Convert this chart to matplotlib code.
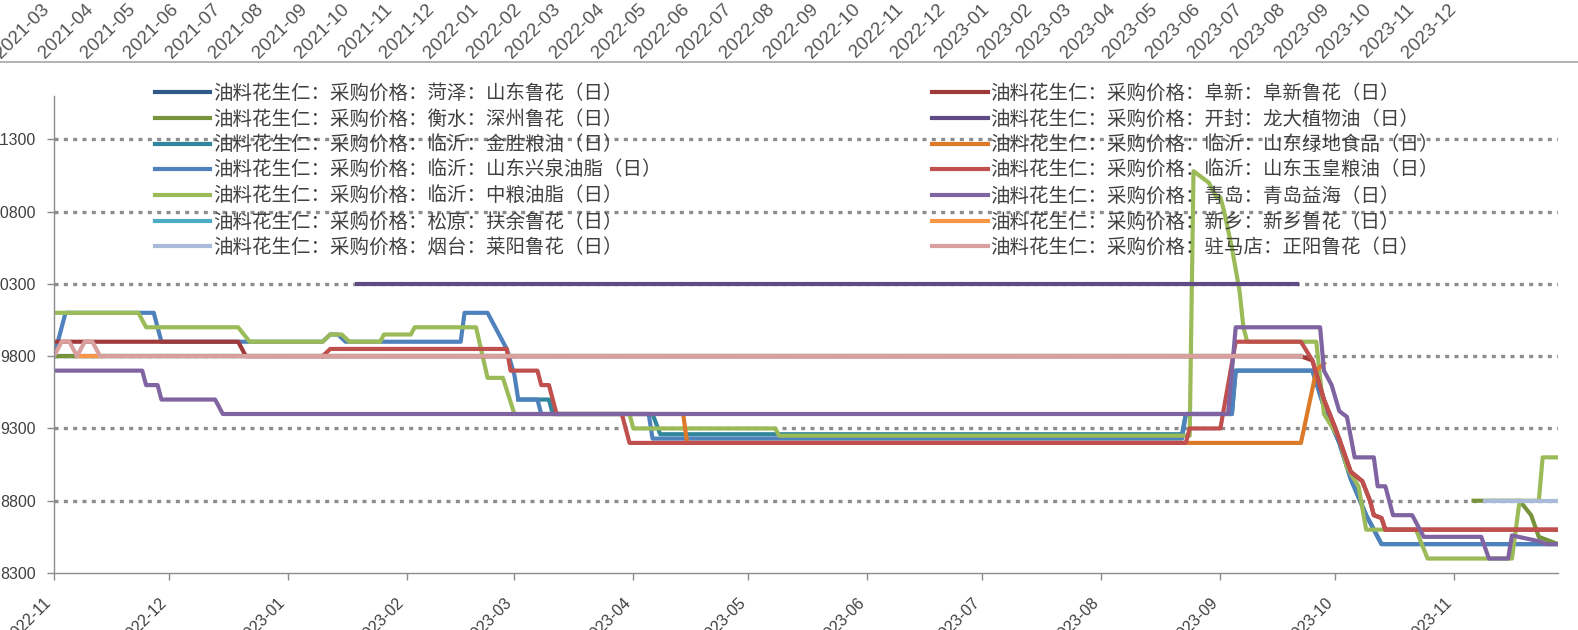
"""
花生仁采购价格走势图（仿 Wind 导出截图）
"""

import matplotlib
matplotlib.use('Agg')
import matplotlib.pyplot as plt
import matplotlib.dates as mdates
from matplotlib.lines import Line2D
import numpy as np

# ============================================================================
# 数据区
# ============================================================================

NAN = np.nan

# 1 菏泽：山东鲁花
HEZE_DATES = ['2022-11-01', '2023-09-22']
HEZE_VALUES = [9800, 9800]

# 2 衡水：深州鲁花
SHENZHOU_DATES = ['2022-11-01', '2022-11-13', '2022-11-14',
                  '2023-11-06', '2023-11-18', '2023-11-21', '2023-11-23', '2023-11-28']
SHENZHOU_VALUES = [9800, 9800, NAN,
                   8800, 8800, 8700, 8550, 8500]

# 3 临沂：金胜粮油
JINSHENG_DATES = ['2023-03-02', '2023-03-10', '2023-03-11', '2023-04-06', '2023-04-08',
                  '2023-08-22', '2023-08-23', '2023-09-04', '2023-09-05', '2023-09-25',
                  '2023-09-28', '2023-10-02', '2023-10-05', '2023-10-09', '2023-10-12',
                  '2023-10-13', '2023-11-28']
JINSHENG_VALUES = [9500, 9500, 9400, 9400, 9260,
                   9260, 9400, 9400, 9700, 9700,
                   9450, 9200, 8950, 8700, 8550,
                   8500, 8500]

# 4 临沂：山东兴泉油脂
XINGQUAN_DATES = ['2022-11-01', '2022-11-04', '2022-11-27', '2022-11-29', '2023-01-10',
                  '2023-01-12', '2023-01-14', '2023-01-16', '2023-02-15', '2023-02-16',
                  '2023-02-22', '2023-02-27', '2023-03-01', '2023-03-02', '2023-03-07',
                  '2023-03-08', '2023-04-05', '2023-04-06', '2023-08-22', '2023-08-23',
                  '2023-09-04', '2023-09-05', '2023-09-25', '2023-09-28', '2023-10-02',
                  '2023-10-05', '2023-10-09', '2023-10-12', '2023-10-13', '2023-11-28']
XINGQUAN_VALUES = [9800, 10100, 10100, 9900, 9900,
                   9950, 9950, 9900, 9900, 10100,
                   10100, 9850, 9670, 9500, 9500,
                   9400, 9400, 9230, 9230, 9400,
                   9400, 9700, 9700, 9450, 9200,
                   8950, 8700, 8550, 8500, 8500]

# 5 临沂：中粮油脂
ZHONGLIANG_DATES = ['2022-11-01', '2022-11-23', '2022-11-25', '2022-12-19', '2022-12-22',
                    '2023-01-10', '2023-01-12', '2023-01-15', '2023-01-17', '2023-01-25',
                    '2023-01-26', '2023-02-02', '2023-02-03', '2023-02-19', '2023-02-22',
                    '2023-02-26', '2023-03-01', '2023-03-31', '2023-04-01', '2023-05-08',
                    '2023-05-09', '2023-08-24', '2023-08-25', '2023-08-29', '2023-08-31',
                    '2023-09-01', '2023-09-02', '2023-09-04', '2023-09-06', '2023-09-07',
                    '2023-09-08', '2023-09-26', '2023-09-28', '2023-10-02', '2023-10-04',
                    '2023-10-07', '2023-10-09', '2023-10-22', '2023-10-25', '2023-11-16',
                    '2023-11-18', '2023-11-23', '2023-11-24', '2023-11-28']
ZHONGLIANG_VALUES = [10100, 10100, 10000, 10000, 9900,
                     9900, 9950, 9950, 9900, 9900,
                     9950, 9950, 10000, 10000, 9650,
                     9650, 9400, 9400, 9300, 9300,
                     9250, 9250, 11080, 11000, 10900,
                     10900, 10800, 10550, 10250, 10000,
                     9900, 9900, 9400, 9230, 9030,
                     8900, 8600, 8600, 8400, 8400,
                     8800, 8800, 9100, 9100]

# 6 松原：扶余鲁花
FUYU_DATES = ['2022-11-14', '2023-09-22']
FUYU_VALUES = [9800, 9800]

# 7 烟台：莱阳鲁花
LAIYANG_DATES = ['2023-11-09', '2023-11-28']
LAIYANG_VALUES = [8800, 8800]

# 8 阜新：阜新鲁花
FUXIN_DATES = ['2022-11-01', '2022-12-19', '2022-12-21', '2023-09-22', '2023-09-25',
               '2023-09-28', '2023-10-01', '2023-10-05', '2023-10-08', '2023-10-10',
               '2023-10-11', '2023-10-13', '2023-10-14', '2023-11-28']
FUXIN_VALUES = [9900, 9900, 9800, 9800, 9770,
                9500, 9300, 9000, 8935, 8800,
                8700, 8680, 8600, 8600]

# 9 开封：龙大植物油
LONGDA_DATES = ['2023-01-19', '2023-09-21']
LONGDA_VALUES = [10300, 10300]

# 10 临沂：山东绿地食品
LVDI_DATES = ['2023-03-12', '2023-04-14', '2023-04-15', '2023-09-22', '2023-09-26',
              '2023-09-28']
LVDI_VALUES = [9400, 9400, 9200, 9200, 9700,
               9750]

# 11 临沂：山东玉皇粮油
YUHUANG_DATES = ['2023-01-10', '2023-01-12', '2023-02-27', '2023-02-28', '2023-03-07',
                 '2023-03-08', '2023-03-10', '2023-03-12', '2023-03-29', '2023-03-31',
                 '2023-08-23', '2023-08-24', '2023-09-01', '2023-09-05', '2023-09-22',
                 '2023-09-25', '2023-09-28', '2023-10-01', '2023-10-05', '2023-10-08',
                 '2023-10-10', '2023-10-11', '2023-10-13', '2023-10-14', '2023-11-28']
YUHUANG_VALUES = [9800, 9850, 9850, 9700, 9700,
                  9600, 9600, 9400, 9400, 9200,
                  9200, 9300, 9300, 9900, 9900,
                  9770, 9500, 9300, 9000, 8935,
                  8800, 8700, 8680, 8600, 8600]

# 12 青岛：青岛益海
YIHAI_DATES = ['2022-11-01', '2022-11-24', '2022-11-25', '2022-11-28', '2022-11-29',
               '2022-12-13', '2022-12-15', '2023-09-03', '2023-09-05', '2023-09-27',
               '2023-09-28', '2023-09-30', '2023-10-02', '2023-10-04', '2023-10-06',
               '2023-10-11', '2023-10-12', '2023-10-14', '2023-10-16', '2023-10-21',
               '2023-10-24', '2023-11-08', '2023-11-10', '2023-11-15', '2023-11-16',
               '2023-11-23', '2023-11-25', '2023-11-28']
YIHAI_VALUES = [9700, 9700, 9600, 9600, 9500,
                9500, 9400, 9400, 10000, 10000,
                9700, 9600, 9420, 9380, 9100,
                9100, 8900, 8900, 8700, 8700,
                8550, 8550, 8400, 8400, 8560,
                8520, 8500, 8500]

# 13 新乡：新乡鲁花
XINXIANG_DATES = ['2022-11-07', '2023-09-22']
XINXIANG_VALUES = [9800, 9800]

# 14 驻马店：正阳鲁花
ZHENGYANG_DATES = ['2022-11-01', '2022-11-03', '2022-11-05', '2022-11-07', '2022-11-09',
                   '2022-11-11', '2022-11-13', '2023-09-22']
ZHENGYANG_VALUES = [9800, 9900, 9900, 9800, 9900,
                    9900, 9800, 9800]

SERIES_LABELS = [
    '油料花生仁：采购价格：菏泽：山东鲁花（日）',
    '油料花生仁：采购价格：衡水：深州鲁花（日）',
    '油料花生仁：采购价格：临沂：金胜粮油（日）',
    '油料花生仁：采购价格：临沂：山东兴泉油脂（日）',
    '油料花生仁：采购价格：临沂：中粮油脂（日）',
    '油料花生仁：采购价格：松原：扶余鲁花（日）',
    '油料花生仁：采购价格：烟台：莱阳鲁花（日）',
    '油料花生仁：采购价格：阜新：阜新鲁花（日）',
    '油料花生仁：采购价格：开封：龙大植物油（日）',
    '油料花生仁：采购价格：临沂：山东绿地食品（日）',
    '油料花生仁：采购价格：临沂：山东玉皇粮油（日）',
    '油料花生仁：采购价格：青岛：青岛益海（日）',
    '油料花生仁：采购价格：新乡：新乡鲁花（日）',
    '油料花生仁：采购价格：驻马店：正阳鲁花（日）',
]
SERIES_COLORS = ['#2f5a87', '#77933c', '#31859c', '#4f81bd', '#9bbb59', '#4bacc6', '#a9bbd9',
                 '#a0393a', '#5f4a86', '#dd7a2a', '#c0504d', '#8064a2', '#f79646', '#d9a0a0']
SERIES_DATA = [
    (HEZE_DATES, HEZE_VALUES), (SHENZHOU_DATES, SHENZHOU_VALUES),
    (JINSHENG_DATES, JINSHENG_VALUES), (XINGQUAN_DATES, XINGQUAN_VALUES),
    (ZHONGLIANG_DATES, ZHONGLIANG_VALUES), (FUYU_DATES, FUYU_VALUES),
    (LAIYANG_DATES, LAIYANG_VALUES), (FUXIN_DATES, FUXIN_VALUES),
    (LONGDA_DATES, LONGDA_VALUES), (LVDI_DATES, LVDI_VALUES),
    (YUHUANG_DATES, YUHUANG_VALUES), (YIHAI_DATES, YIHAI_VALUES),
    (XINXIANG_DATES, XINXIANG_VALUES), (ZHENGYANG_DATES, ZHENGYANG_VALUES),
]

Y_TICKS = [8300, 8800, 9300, 9800, 10300, 10800, 11300]
Y_RANGE = (8300, 11600)
X_RANGE = ('2022-11-01', '2023-11-28')

# 截图上方残留的另一张图的横轴（2021-03 ~ 2023-12）
TOP_AXIS_FIRST = '2021-03'
TOP_AXIS_LAST = '2023-12'

# ============================================================================
# 绘图配置
# ============================================================================

W_PX, H_PX = 1578, 630
DPI = 100
TEXT_COLOR = '#404040'
AXIS_COLOR = '#8c8c8c'
CJK_FONT = ['Noto Sans CJK SC', 'DejaVu Sans']
NUM_FONT = ['Liberation Sans', 'DejaVu Sans']


def to_num(d):
    return mdates.date2num(np.datetime64(d, 'D'))


def main():
    fig = plt.figure(figsize=(W_PX / DPI, H_PX / DPI), dpi=DPI)

    # 主图区域（像素）
    left, right, top, bottom = 54, 1558, 96, 573
    ax = fig.add_axes([left / W_PX, (H_PX - bottom) / H_PX,
                       (right - left) / W_PX, (bottom - top) / H_PX])

    for y in Y_TICKS[1:]:
        ax.axhline(y, color=AXIS_COLOR, lw=2.4, ls=(0, (1.2, 1.6)), zorder=1)

    handles = []
    for (dates, values), label, color in zip(SERIES_DATA, SERIES_LABELS, SERIES_COLORS):
        x = np.array(dates, dtype='datetime64[D]')
        line, = ax.plot(x, values, color=color, lw=3.0, label=label, zorder=2)
        handles.append(line)

    ax.set_ylim(*Y_RANGE)
    ax.set_xlim(to_num(X_RANGE[0]), to_num(X_RANGE[1]))
    ax.set_yticks(Y_TICKS)
    ax.set_yticklabels([str(v) for v in Y_TICKS])
    ax.xaxis.set_major_locator(mdates.MonthLocator())
    ax.xaxis.set_major_formatter(mdates.DateFormatter('%Y-%m'))

    for s in ['top', 'right']:
        ax.spines[s].set_visible(False)
    for s in ['left', 'bottom']:
        ax.spines[s].set_color(AXIS_COLOR)
        ax.spines[s].set_linewidth(1.0)
    ax.tick_params(axis='both', colors=AXIS_COLOR, labelcolor=TEXT_COLOR,
                   length=5, width=1.0, labelsize=11.5)
    ax.tick_params(axis='y', pad=8)
    ax.tick_params(axis='x', pad=11)
    for lab in ax.get_xticklabels():
        lab.set_rotation(45)
        lab.set_ha('right')
        lab.set_family(NUM_FONT)
    for lab in ax.get_yticklabels():
        lab.set_family(NUM_FONT)

    leg = ax.legend(handles=handles, ncol=2, loc='upper left',
                    bbox_to_anchor=(155 / W_PX, (H_PX - 83) / H_PX),
                    bbox_transform=fig.transFigure, frameon=False,
                    prop={'family': CJK_FONT, 'size': 14},
                    handlelength=2.85, handletextpad=0.15, labelspacing=0.24,
                    columnspacing=13.9, borderpad=0, borderaxespad=0)
    for t in leg.get_texts():
        t.set_color(TEXT_COLOR)

    # 截图顶部残留的旋转日期标签
    top_months = np.arange(np.datetime64(TOP_AXIS_FIRST), np.datetime64(TOP_AXIS_LAST) + 1,
                           dtype='datetime64[M]')
    top_ticks = mdates.date2num(top_months.astype('datetime64[D]'))
    x_first, x_last = 53, 1460
    per_px = (top_ticks[-1] - top_ticks[0]) / (x_last - x_first)
    ax_top = fig.add_axes([0, (H_PX + 2) / H_PX, 1, 0.05])
    ax_top.set_xlim(top_ticks[0] - x_first * per_px, top_ticks[-1] + (W_PX - x_last) * per_px)
    ax_top.set_xticks(top_ticks)
    ax_top.set_xticklabels([str(m) for m in top_months])
    ax_top.set_yticks([])
    for s in ax_top.spines.values():
        s.set_visible(False)
    ax_top.patch.set_visible(False)
    ax_top.tick_params(axis='x', length=0, pad=2, labelsize=13.5, labelcolor='#555555')
    for lab in ax_top.get_xticklabels():
        lab.set_rotation(45)
        lab.set_ha('right')
        lab.set_family(NUM_FONT)

    # 分隔线
    fig.add_artist(Line2D([0, 1], [(H_PX - 62) / H_PX] * 2, transform=fig.transFigure,
                          color='#a6a6a6', lw=1.2))

    fig.savefig('out.png', dpi=DPI)


if __name__ == '__main__':
    main()
